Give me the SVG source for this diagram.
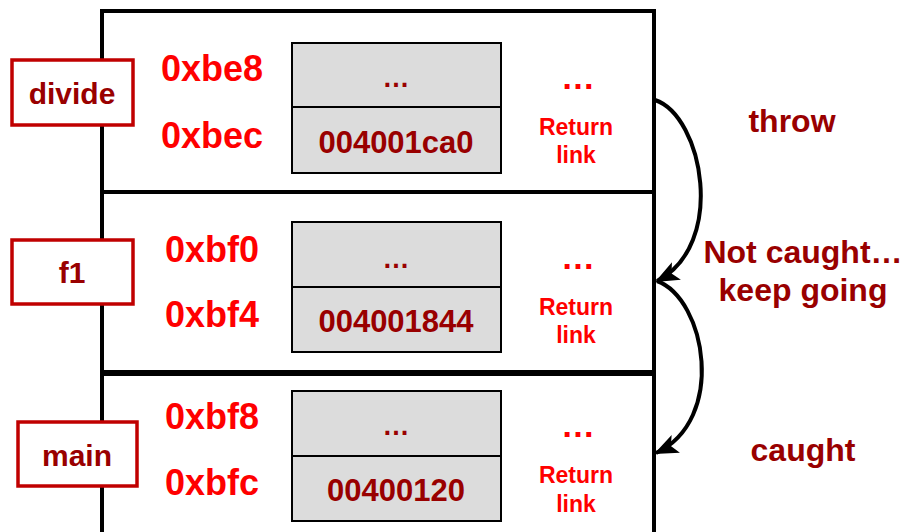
<svg xmlns="http://www.w3.org/2000/svg" width="901" height="532" viewBox="0 0 901 532">
<style>
text{font-family:"Liberation Sans",Arial,sans-serif;font-weight:bold;text-anchor:middle}
.frame{fill:none;stroke:#000;stroke-width:4}
.cell{fill:#dcdcdc;stroke:#000;stroke-width:2}
.lbl{fill:#fff;stroke:#c00000;stroke-width:3.5}
.lbltx{fill:#990000;font-size:30px}
.addr{fill:#ff0000;font-size:36px}
.val{fill:#990000;font-size:31px}
.dots{fill:#990000;font-size:27px}
.rdots{fill:#ff0000;font-size:34px}
.ret{fill:#ff0000;font-size:23px}
.note{fill:#990000;font-size:32px}
.arr{fill:none;stroke:#000;stroke-width:4}
</style>
<defs>
<marker id="ah" markerUnits="userSpaceOnUse" markerWidth="24" markerHeight="24" viewBox="0 0 22 20" refX="20" refY="10" orient="auto">
<path d="M0,1 L22,10 L0,19 L5,10 Z" fill="#000"/>
</marker>
</defs>
<g id="frame">
<path class="frame" d="M102,540 V11 H654 V540"/>
<line x1="102" y1="192" x2="654" y2="192" stroke="#000" stroke-width="4"/>
<line x1="102" y1="373" x2="654" y2="373" stroke="#000" stroke-width="6"/>
</g>
<g id="frame-divide">
<rect class="lbl" x="12" y="60" width="121" height="65"/>
<text class="lbltx" x="72" y="104">divide</text>
<text class="addr" x="212" y="81">0xbe8</text>
<text class="addr" x="212" y="148">0xbec</text>
<rect class="cell" x="292" y="43" width="209" height="64"/>
<rect class="cell" x="292" y="107" width="209" height="66"/>
<text class="dots" x="396" y="87">…</text>
<text class="val" x="396" y="153">004001ca0</text>
<text class="rdots" x="578" y="89">…</text>
<text class="ret" x="576" y="135">Return</text>
<text class="ret" x="576" y="163">link</text>
</g>
<g id="frame-f1">
<rect class="lbl" x="12" y="240" width="121" height="64"/>
<text class="lbltx" x="72" y="283">f1</text>
<text class="addr" x="212" y="262">0xbf0</text>
<text class="addr" x="212" y="327">0xbf4</text>
<rect class="cell" x="292" y="222" width="209" height="65"/>
<rect class="cell" x="292" y="287" width="209" height="65"/>
<text class="dots" x="396" y="268">…</text>
<text class="val" x="396" y="332">004001844</text>
<text class="rdots" x="578" y="269">…</text>
<text class="ret" x="576" y="315">Return</text>
<text class="ret" x="576" y="343">link</text>
</g>
<g id="frame-main">
<rect class="lbl" x="18" y="422" width="119" height="64"/>
<text class="lbltx" x="77" y="466">main</text>
<text class="addr" x="212" y="429">0xbf8</text>
<text class="addr" x="212" y="495">0xbfc</text>
<rect class="cell" x="292" y="391" width="209" height="65"/>
<rect class="cell" x="292" y="456" width="209" height="65"/>
<text class="dots" x="396" y="435">…</text>
<text class="val" x="396" y="501">00400120</text>
<text class="rdots" x="578" y="437">…</text>
<text class="ret" x="576" y="483">Return</text>
<text class="ret" x="576" y="512">link</text>
</g>
<g id="connectors">
<path class="arr" d="M655,100 C703,116 727,245 657,281" marker-end="url(#ah)"/>
<path class="arr" d="M657,281 C706,299 727,420 656,453" marker-end="url(#ah)"/>
</g>
<g id="notes">
<text class="note" x="792" y="132">throw</text>
<text class="note" x="803" y="263">Not caught…</text>
<text class="note" x="803" y="301">keep going</text>
<text class="note" x="803" y="461">caught</text>
</g>
</svg>
